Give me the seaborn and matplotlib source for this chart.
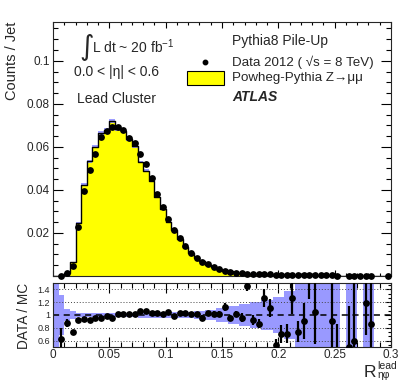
import numpy as np
import pandas as pd
import matplotlib
matplotlib.use("Agg")
import matplotlib.pyplot as plt
from matplotlib.ticker import FixedLocator, MultipleLocator, FuncFormatter
from matplotlib.patches import Rectangle
import seaborn as sns

# ---------------- data ----------------
bin_edges = [round(i * 0.005, 4) for i in range(61)]     # R_eta-phi bins, 0 .. 0.3

mc_counts = [
    0.00003, 0.0003, 0.0015, 0.0063, 0.0248, 0.0425, 0.0532, 0.0600, 0.0665, 0.0680,
    0.0719, 0.0682, 0.0672, 0.0636, 0.0603, 0.0530, 0.0490, 0.0440, 0.0369, 0.0313,
    0.0252, 0.0216, 0.0173, 0.0136, 0.0108, 0.0083, 0.0068, 0.0052, 0.0042, 0.0033,
    0.0023, 0.0021, 0.0016, 0.00125, 0.0008, 0.0009, 0.0009, 0.0006, 0.0006, 0.0008,
    0.0007, 0.0007, 0.0005, 0.0005, 0.0004, 0.0002, 0.0004, 0.0002, 0.0002, 0.0003,
    0.0003, 0.0, 0.0004, 0.0003, 0.0, 0.0002, 0.0002, 0.0, 0.0, 0.0]

data_counts = [
    np.nan, 0.0002, 0.0013, 0.0047, 0.0228, 0.0395, 0.0491, 0.0569, 0.0647, 0.0674,
    0.0690, 0.0693, 0.0678, 0.0640, 0.0616, 0.0569, 0.0522, 0.0453, 0.0380, 0.0320,
    0.0264, 0.0215, 0.0178, 0.0140, 0.0109, 0.0085, 0.0065, 0.0054, 0.0043, 0.0033,
    0.0025, 0.0020, 0.0016, 0.0012, 0.0011, 0.0009, 0.0008, 0.0008, 0.0007, 0.0005,
    0.0005, 0.0005, 0.0006, 0.0004, 0.0004, 0.0004, 0.0004, 0.0003, 0.0003, 0.0003,
    0.0002, np.nan, 0.0002, 0.0002, 0.0002, 0.0002, 0.0002, np.nan, np.nan, 0.0002]

ratio = [
    np.nan, 0.62, 0.88, 0.74, 0.92, 0.93, 0.92, 0.95, 0.96, 0.99,
    0.96, 1.02, 1.01, 1.01, 1.02, 1.07, 1.06, 1.03, 1.03, 1.02,
    1.05, 0.98, 1.03, 1.03, 1.01, 1.02, 0.96, 1.03, 1.02, 1.01,
    1.12, 0.96, 1.02, 0.96, 1.45, 0.92, 0.86, 1.26, 1.11, 0.53,
    0.70, 0.71, 1.27, 0.74, 0.90, 1.80, 1.05, np.nan, np.nan, 0.90,
    0.30, np.nan, 0.50, 0.60, np.nan, 1.19, 0.86, np.nan, np.nan, np.nan]

ratio_err = [
    0.0, 0.18, 0.06, 0.03, 0.015, 0.012, 0.012, 0.012, 0.012, 0.012,
    0.012, 0.012, 0.012, 0.012, 0.012, 0.015, 0.015, 0.015, 0.02, 0.02,
    0.02, 0.02, 0.025, 0.025, 0.03, 0.03, 0.035, 0.04, 0.04, 0.045,
    0.06, 0.04, 0.05, 0.07, 0.07, 0.08, 0.07, 0.14, 0.14, 0.10,
    0.14, 0.15, 0.25, 0.16, 0.28, 0.55, 0.50, 0.0, 0.0, 0.70,
    0.56, 0.0, 0.64, 0.95, 0.0, 0.51, 0.70, 0.0, 0.0, 0.0]

band_halfwidth = [
    1.0, 0.32, 0.10, 0.06, 0.03, 0.03, 0.03, 0.03, 0.03, 0.03,
    0.03, 0.03, 0.03, 0.03, 0.03, 0.04, 0.04, 0.04, 0.04, 0.04,
    0.04, 0.04, 0.05, 0.05, 0.05, 0.06, 0.06, 0.08, 0.08, 0.11,
    0.11, 0.14, 0.14, 0.17, 0.17, 0.20, 0.20, 0.23, 0.23, 0.28,
    0.28, 0.38, 0.38, 1.0, 1.0, 1.0, 1.0, 1.0, 1.0, 1.0,
    1.0, 0.0, 1.0, 1.0, 0.0, 1.0, 1.0, 0.0, 0.0, 0.0]

mc_stat_rel = 0.012

top_yticks = [0.02, 0.04, 0.06, 0.08, 0.1]
ratio_yticks = [0.6, 0.8, 1.0, 1.2, 1.4]
x_ticks = [0, 0.05, 0.1, 0.15, 0.2, 0.25, 0.3]

# ---------------- style ----------------
sns.set_style("ticks")
plt.rcParams["font.family"] = ["Liberation Sans", "DejaVu Sans"]
plt.rcParams["mathtext.fontset"] = "custom"
plt.rcParams["mathtext.rm"] = "Liberation Sans"
plt.rcParams["mathtext.it"] = "Liberation Sans:italic"
plt.rcParams["mathtext.bf"] = "Liberation Sans:bold"
plt.rcParams["axes.linewidth"] = 0.8

W, H = 411, 381
fig = plt.figure(figsize=(W / 100, H / 100), dpi=100)


def fx(px):
    return px / W


def fy(py):
    return 1 - py / H


ax1 = fig.add_axes([fx(53), fy(276), fx(391) - fx(53), fy(22) - fy(276)])
ax2 = fig.add_axes([fx(53), fy(347), fx(391) - fx(53), fy(283) - fy(347)])

edges = np.array(bin_edges)
centers = (edges[:-1] + edges[1:]) / 2
width = edges[1] - edges[0]
df = pd.DataFrame({"x": centers, "mc": mc_counts, "data": data_counts,
                   "ratio": ratio, "rerr": ratio_err, "band": band_halfwidth})

# ---------------- top panel ----------------
sns.histplot(x=df["x"].to_numpy(), weights=df["mc"].to_numpy(), bins=bin_edges,
             element="step", fill=True, color="#ffff00", alpha=1, linewidth=0,
             ax=ax1, zorder=1)
mc_arr = df["mc"].to_numpy()
ax1.bar(centers, 2 * mc_arr * mc_stat_rel, bottom=mc_arr * (1 - mc_stat_rel),
        width=width, color="#8c8cff", alpha=0.85, linewidth=0, zorder=2)
sns.histplot(x=df["x"].to_numpy(), weights=df["mc"].to_numpy(), bins=bin_edges,
             element="step", fill=False, color="black", linewidth=1.0, ax=ax1,
             zorder=3)
n_before = len(ax1.collections)
sns.scatterplot(data=df, x="x", y="data", color="black", s=24, linewidth=0,
                ax=ax1, zorder=5)
for c in ax1.collections[n_before:]:
    c.set_clip_on(False)

ax1.set_xlim(0, 0.3)
ax1.set_ylim(0, 0.118)
ax1.set_xlabel("")
ax1.set_ylabel("")
ax1.yaxis.set_major_locator(FixedLocator(top_yticks))
ax1.yaxis.set_minor_locator(MultipleLocator(0.005))
ax1.yaxis.set_major_formatter(FuncFormatter(lambda v, p: f"{v:g}"))
ax1.xaxis.set_major_locator(FixedLocator(x_ticks))
ax1.xaxis.set_minor_locator(MultipleLocator(0.01))
ax1.tick_params(axis="x", which="both", labelbottom=False)
ax1.tick_params(which="both", direction="in", top=True, right=True, width=0.8,
                color="black")
ax1.tick_params(axis="y", which="major", length=7.2, labelsize=8.5, pad=2.5)
ax1.tick_params(axis="y", which="minor", length=3.6)
ax1.tick_params(axis="x", which="major", length=4.3)
ax1.tick_params(axis="x", which="minor", length=2.2)

# ---------------- ratio panel ----------------
ax2.bar(centers, 2 * df["band"], bottom=1 - df["band"], width=width,
        color="#9999ff", linewidth=0, zorder=1)
for v in [0.6, 0.8, 1.2, 1.4]:
    ax2.axhline(v, color="#444444", linestyle=(0, (1, 2)), linewidth=0.7, zorder=2)
ax2.axhline(1.0, color="black", linestyle=(0, (4, 3)), linewidth=1.1, zorder=2)
ax2.errorbar(df["x"], df["ratio"], yerr=df["rerr"], fmt="none", ecolor="black",
             elinewidth=1.6, capsize=0, zorder=4)
sns.scatterplot(data=df, x="x", y="ratio", color="black", s=24, linewidth=0,
                ax=ax2, zorder=5)
ax2.set_xlim(0, 0.3)
ax2.set_ylim(0.5, 1.5)
ax2.set_xlabel("")
ax2.set_ylabel("")
ax2.yaxis.set_major_locator(FixedLocator(ratio_yticks))
ax2.yaxis.set_minor_locator(MultipleLocator(0.2 / 3))
ax2.yaxis.set_major_formatter(FuncFormatter(lambda v, p: f"{v:g}"))
ax2.xaxis.set_major_locator(FixedLocator(x_ticks))
ax2.xaxis.set_minor_locator(MultipleLocator(0.01))
ax2.xaxis.set_major_formatter(FuncFormatter(lambda v, p: f"{v:g}"))
ax2.tick_params(which="both", direction="in", top=True, right=True, width=0.8,
                color="black")
ax2.tick_params(axis="y", which="major", length=4, labelsize=6.5, pad=2)
ax2.tick_params(axis="y", which="minor", length=2)
ax2.tick_params(axis="x", which="major", length=7, labelsize=8.5, pad=1.5)
ax2.tick_params(axis="x", which="minor", length=3.5)

# ---------------- labels & annotations ----------------
fig.text(fx(12), fy(22), "Counts / Jet", rotation=90, ha="center", va="top",
         fontsize=10.5)
fig.text(fx(24), fy(316), "DATA / MC", rotation=90, ha="center", va="center",
         fontsize=9.8)
# x-axis title R^{lead}_{eta phi}, built from three pieces
fig.text(fx(376), fy(377), "R", ha="right", va="baseline", fontsize=12.5)
fig.text(fx(377), fy(361), "lead", ha="left", va="top", fontsize=7.5)
fig.text(fx(377), fy(380.5), "ηφ", ha="left", va="bottom", fontsize=7.5)

fig.text(fx(79), fy(47), "∫", fontsize=20, family="DejaVu Sans", ha="left",
         va="center")
fig.text(fx(92), fy(47), r"L dt ~ 20 fb$^{\mathregular{-1}}$", fontsize=10,
         ha="left", va="center")
fig.text(fx(74), fy(72), "0.0 < |η| < 0.6", fontsize=10, ha="left", va="center")
fig.text(fx(77), fy(99), "Lead Cluster", fontsize=10, ha="left", va="center")

fig.text(fx(232), fy(41), "Pythia8 Pile-Up", fontsize=10, ha="left", va="center")
fig.lines.append(plt.Line2D([fx(205)], [fy(62)], marker="o", markersize=3.2,
                            color="black", linestyle="none",
                            transform=fig.transFigure, figure=fig))
fig.text(fx(232), fy(62), "Data 2012 ( √s = 8 TeV)", fontsize=9.6, ha="left",
         va="center")
fig.patches.append(Rectangle((fx(187), fy(85)), fx(224) - fx(187), fy(71) - fy(85),
                             facecolor="#ffff00", edgecolor="black", linewidth=0.8,
                             transform=fig.transFigure, figure=fig))
fig.text(fx(232), fy(78), "Powheg-Pythia Z→μμ", fontsize=9.6, ha="left",
         va="center")
fig.text(fx(232), fy(97), "ATLAS", fontsize=10, ha="left", va="center",
         fontweight="bold", fontstyle="italic")

fig.savefig("out.png", dpi=100)
